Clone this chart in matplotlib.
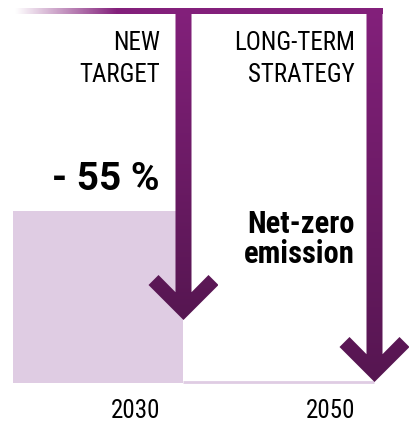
import numpy as np
import matplotlib
matplotlib.use('Agg')
import matplotlib.pyplot as plt
from matplotlib.patches import Polygon
from matplotlib.colors import LinearSegmentedColormap

# data
years = ['2030', '2050']
headings = ['NEW\nTARGET', 'LONG-TERM\nSTRATEGY']
results = ['- 55 %', 'Net-zero\nemission']

purple = '#83207b'
dark = '#561651'
light = '#dfcce3'
fam = ['Roboto Condensed', 'DejaVu Sans']
fam_wide = ['Roboto', 'DejaVu Sans']

fig = plt.figure(figsize=(4.14, 4.24), dpi=100)
ax = fig.add_axes([0, 0, 1, 1])
ax.set_xlim(0, 414)
ax.set_ylim(424, 0)
ax.axis('off')

# layout in pixels
col_right = [160, 355]
arrow_x = [183.5, 374.5]
arrow_tip = [320, 382]
top_y, top_h = 8, 6
base_y = 383
shaft = 8
head_w, head_t = 35, 14

# level box for 2030 and base line
ax.bar([13], [base_y - 211], width=arrow_x[0] - 13, bottom=211, align='edge',
       color=light, zorder=1)
ax.plot([arrow_x[0], arrow_x[1]], [base_y - 1, base_y - 1], color=light, lw=2, zorder=1,
        solid_capstyle='butt')

# top bar, fading in from the left
fade = LinearSegmentedColormap.from_list('fade', ['#ffffff', purple])
grad = np.clip((np.linspace(15, arrow_x[1] + shaft, 400) - 15) / (117 - 15), 0, 1)
ax.imshow(grad[None, :], cmap=fade, extent=(15, arrow_x[1] + shaft, top_y + top_h, top_y),
          aspect='auto', zorder=2, interpolation='bilinear')

# arrows, darker towards the tip
down = LinearSegmentedColormap.from_list('down', [purple, dark])
for cx, tip in zip(arrow_x, arrow_tip):
    d = head_t * np.sqrt(2)
    pts = [(cx, tip), (cx - head_w, tip - head_w), (cx - head_w + 10, tip - head_w - 10),
           (cx - shaft, tip - d - shaft), (cx - shaft, top_y),
           (cx + shaft, top_y), (cx + shaft, tip - d - shaft),
           (cx + head_w - 10, tip - head_w - 10), (cx + head_w, tip - head_w)]
    poly = Polygon(pts, closed=True, facecolor='none', edgecolor='none')
    ax.add_patch(poly)
    g = np.linspace(0, 1, 300)[:, None]
    im = ax.imshow(g, cmap=down, extent=(cx - head_w, cx + head_w, tip, top_y),
                   aspect='auto', zorder=3, interpolation='bilinear')
    im.set_clip_path(poly)

# texts
for xr, head in zip(col_right, headings):
    for i, line in enumerate(head.split('\n')):
        ax.text(xr, 50 + 32 * i, line, ha='right', va='baseline', fontsize=18,
                family=fam, stretch='condensed', color='black')

ax.text(col_right[0], 190, results[0], ha='right', va='baseline', fontsize=28,
        family=fam_wide, weight='bold', color='black')
for i, line in enumerate(results[1].split('\n')):
    ax.text(col_right[1], 233 + 30 * i, line, ha='right', va='baseline', fontsize=22,
            family=fam, stretch='condensed', weight='bold', color='black')

for xr, yr in zip(col_right, years):
    ax.text(xr, 418, yr, ha='right', va='baseline', fontsize=18, family=fam,
            stretch='condensed', color='black')

fig.savefig('out.png', dpi=100)
